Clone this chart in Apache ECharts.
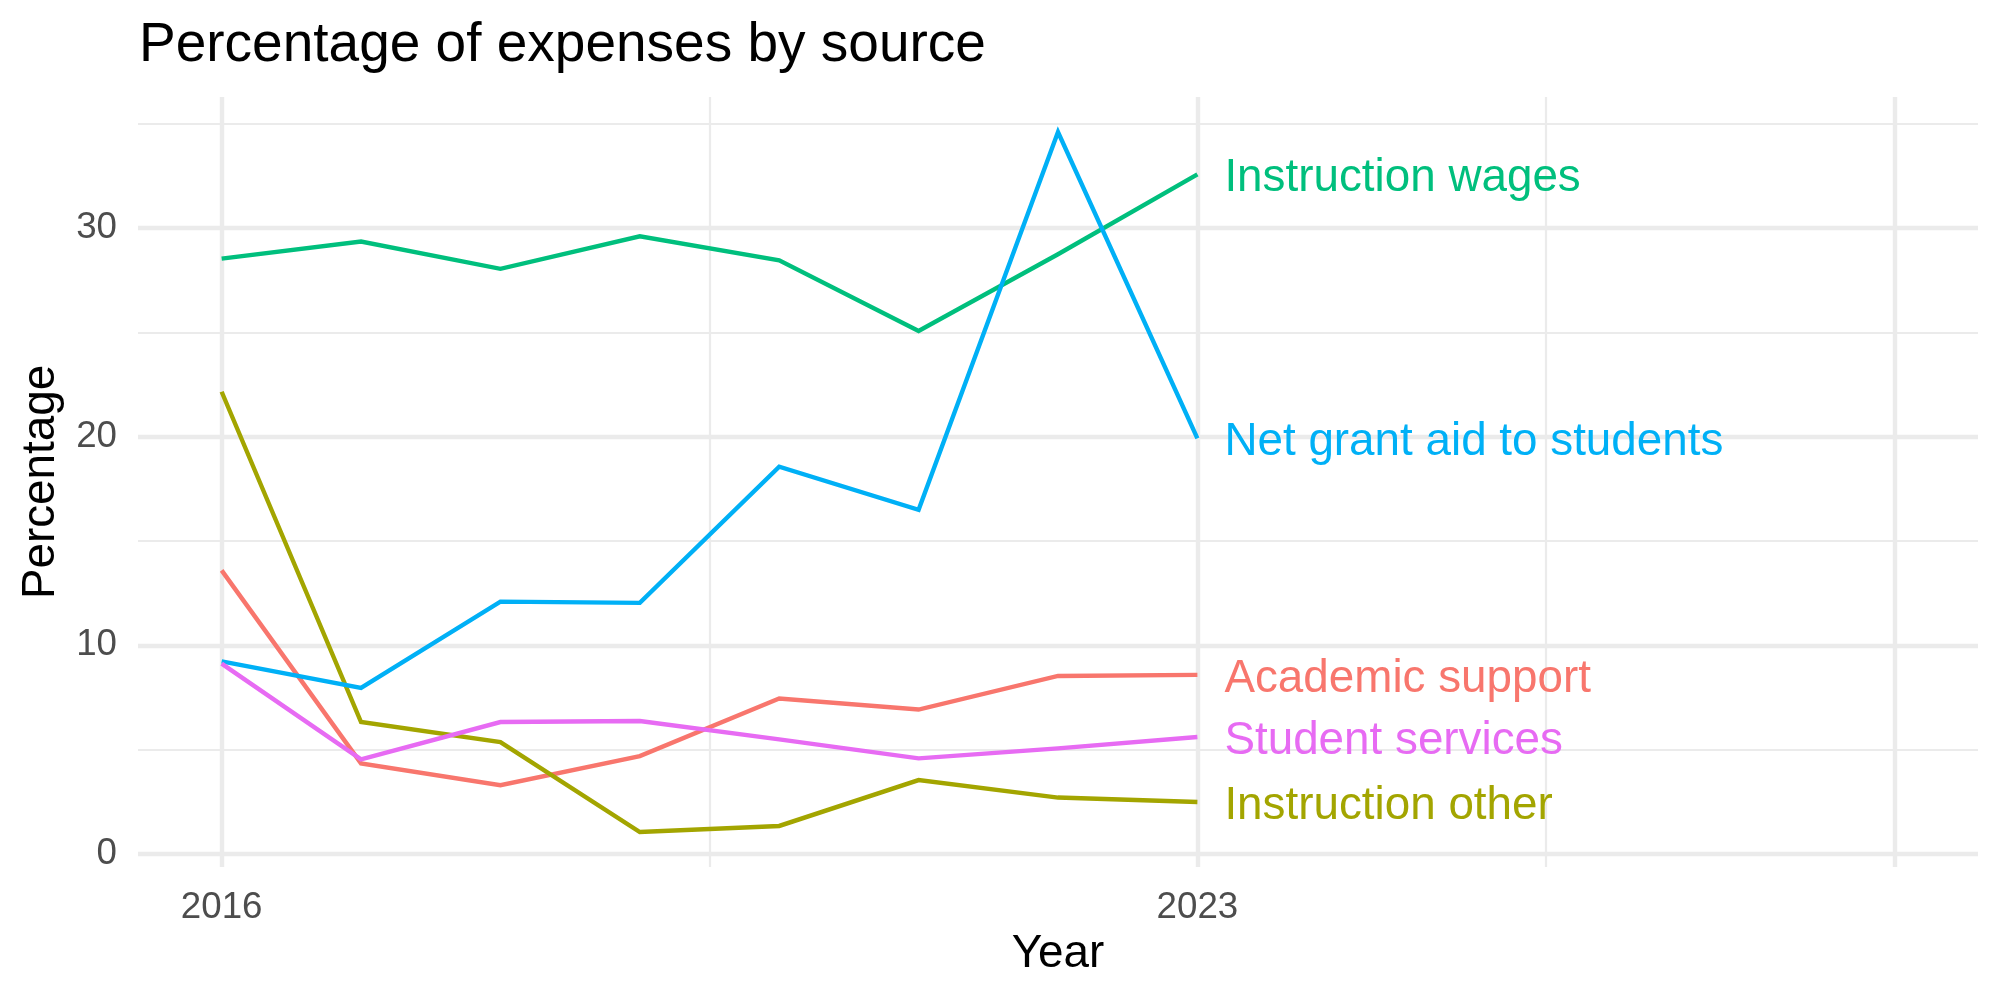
<!DOCTYPE html>
<html>
<head>
<meta charset="utf-8">
<script src="https://cdn.jsdelivr.net/npm/echarts@6/dist/echarts.min.js"></script>
<style>
  html, body { margin: 0; padding: 0; background: #ffffff; }
  #chart { width: 2000px; height: 1000px; }
</style>
</head>
<body>
<div id="chart"></div>
<script>
// ---- data ----
const years = [2016, 2017, 2018, 2019, 2020, 2021, 2022, 2023];
const academicSupport   = [13.59, 4.34, 3.29, 4.69, 7.45, 6.92, 8.53, 8.58];
const instructionOther  = [22.15, 6.32, 5.36, 1.05, 1.34, 3.54, 2.70, 2.49];
const instructionWages  = [28.53, 29.35, 28.04, 29.60, 28.45, 25.06, 28.74, 32.57];
const netGrantAid       = [9.23, 7.96, 12.09, 12.03, 18.56, 16.49, 34.60, 19.92];
const studentServices   = [9.12, 4.53, 6.32, 6.37, 5.49, 4.58, 5.06, 5.60];

const seriesNames = ['Academic support', 'Instruction other', 'Instruction wages', 'Net grant aid to students', 'Student services'];
const seriesValues = [academicSupport, instructionOther, instructionWages, netGrantAid, studentServices];
const seriesColors = ['#F8766D', '#A3A500', '#00BF7D', '#00B0F6', '#E76BF3'];

const xLimits = [2016, 2028];
const xLabelValues = [2016, 2023];
const xMajorBreaks = [2016, 2023, 2028];
const xMinorBreaks = [2019.5, 2025.5];
const yLabelValues = [0, 10, 20, 30];
const yMajorBreaks = [0, 10, 20, 30];
const yMinorBreaks = [5, 15, 25, 35];

// ---- scales (ggplot-style 5% expansion) ----
const allVals = [].concat(...seriesValues);
const yMin = Math.min(...allVals), yMax = Math.max(...allVals);
const yPad = (yMax - yMin) * 0.05;
const xPad = (xLimits[1] - xLimits[0]) * 0.05;

const FONT = 'Liberation Sans, Arial, Helvetica, sans-serif';
const GRID = '#EBEBEB';

const gridLines = [];
xMajorBreaks.forEach(v => gridLines.push({ xAxis: v, lineStyle: { width: 4.4, color: GRID, type: 'solid' } }));
xMinorBreaks.forEach(v => gridLines.push({ xAxis: v, lineStyle: { width: 2.2, color: GRID, type: 'solid' } }));
yMajorBreaks.forEach(v => gridLines.push({ yAxis: v, lineStyle: { width: 4.4, color: GRID, type: 'solid' } }));
yMinorBreaks.forEach(v => gridLines.push({ yAxis: v, lineStyle: { width: 2.2, color: GRID, type: 'solid' } }));

const series = [{
  name: '__grid',
  type: 'line',
  data: [],
  z: 0,
  silent: true,
  markLine: {
    silent: true,
    z: 0,
    symbol: ['none', 'none'],
    label: { show: false },
    emphasis: { disabled: true },
    animation: false,
    data: gridLines
  }
}];

seriesNames.forEach((name, i) => {
  series.push({
    name: name,
    type: 'line',
    z: 2 + i,
    data: years.map((y, k) => [y, seriesValues[i][k]]),
    showSymbol: false,
    symbol: 'none',
    lineStyle: { color: seriesColors[i], width: 4.4, cap: 'butt', join: 'miter' },
    itemStyle: { color: seriesColors[i] },
    endLabel: {
      show: true,
      formatter: '{a}',
      distance: 27,
      offset: [0, 4],
      color: seriesColors[i],
      fontFamily: FONT,
      fontSize: 45.8
    }
  });
});

const chart = echarts.init(document.getElementById('chart'), null, { renderer: 'canvas' });
chart.setOption({
  animation: false,
  backgroundColor: '#ffffff',
  title: {
    text: 'Percentage of expenses by source',
    left: 134,
    top: 13,
    textStyle: { fontFamily: FONT, fontSize: 55, fontWeight: 'normal', color: '#000000' }
  },
  grid: { left: 138, right: 22, top: 97, bottom: 133, containLabel: false },
  xAxis: {
    type: 'value',
    min: xLimits[0] - xPad,
    max: xLimits[1] + xPad,
    name: 'Year',
    nameLocation: 'middle',
    nameGap: 63,
    nameTextStyle: { fontFamily: FONT, fontSize: 45.8, color: '#000000' },
    axisLine: { show: false },
    axisTick: { show: false },
    splitLine: { show: false },
    axisLabel: {
      customValues: xLabelValues,
      formatter: v => String(v),
      margin: 22,
      fontFamily: FONT,
      fontSize: 36.7,
      color: '#4D4D4D'
    }
  },
  yAxis: {
    type: 'value',
    min: yMin - yPad,
    max: yMax + yPad,
    name: 'Percentage',
    nameLocation: 'middle',
    nameGap: 74,
    nameRotate: 90,
    nameTextStyle: { fontFamily: FONT, fontSize: 45.8, color: '#000000' },
    axisLine: { show: false },
    axisTick: { show: false },
    splitLine: { show: false },
    axisLabel: {
      customValues: yLabelValues,
      formatter: v => String(v),
      margin: 21,
      fontFamily: FONT,
      fontSize: 36.7,
      color: '#4D4D4D'
    }
  },
  series: series
});
</script>
</body>
</html>
